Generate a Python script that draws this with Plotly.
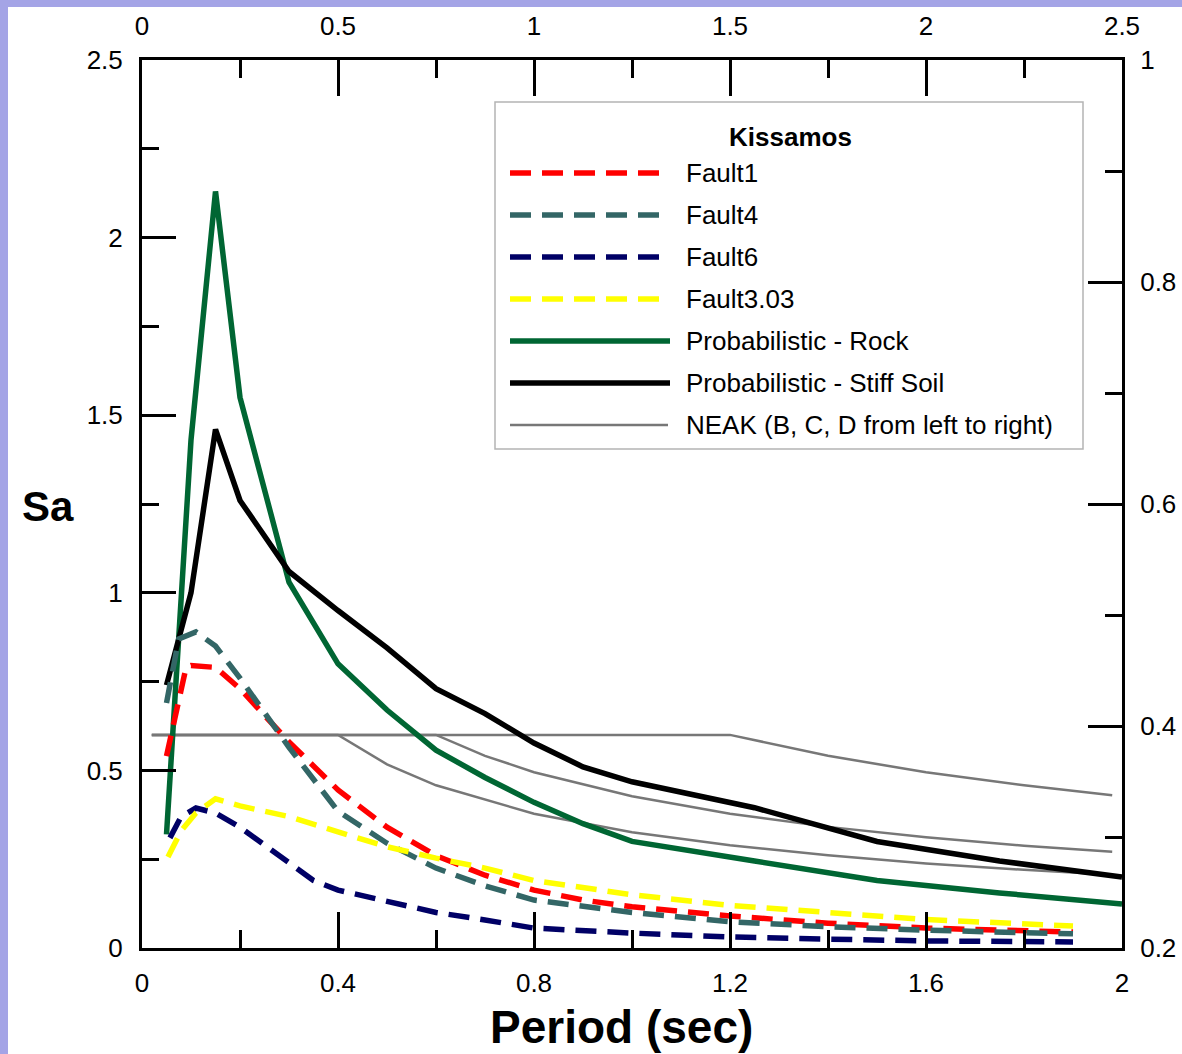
import plotly.graph_objects as go

# ---------------- data ----------------
T_prob = [0.05, 0.1, 0.15, 0.2, 0.3, 0.4, 0.5, 0.6, 0.7, 0.8, 0.9, 1.0, 1.25, 1.5, 1.75, 2.0]
Sa_rock = [0.32, 1.43, 2.13, 1.55, 1.03, 0.80, 0.67, 0.557, 0.48, 0.41, 0.35, 0.30, 0.245, 0.19, 0.155, 0.124]
Sa_soil = [0.74, 1.0, 1.46, 1.26, 1.06, 0.95, 0.845, 0.73, 0.66, 0.577, 0.51, 0.468, 0.395, 0.30, 0.245, 0.20]

T_f1 = [0.05, 0.09, 0.1, 0.15, 0.2, 0.3, 0.4, 0.5, 0.6, 0.7, 0.8, 0.9, 1.0, 1.2, 1.4, 1.6, 1.9]
Sa_f1 = [0.54, 0.79, 0.795, 0.79, 0.73, 0.58, 0.445, 0.34, 0.26, 0.205, 0.163, 0.135, 0.116, 0.09, 0.07, 0.056, 0.045]

T_f4 = [0.05, 0.075, 0.11, 0.15, 0.2, 0.3, 0.4, 0.5, 0.6, 0.7, 0.8, 0.9, 1.0, 1.2, 1.4, 1.6, 1.9]
Sa_f4 = [0.69, 0.87, 0.89, 0.85, 0.76, 0.565, 0.385, 0.295, 0.225, 0.175, 0.135, 0.116, 0.10, 0.074, 0.06, 0.05, 0.04]

T_f6 = [0.057, 0.08, 0.11, 0.15, 0.2, 0.3, 0.35, 0.4, 0.5, 0.6, 0.7, 0.8, 1.0, 1.2, 1.4, 1.6, 1.9]
Sa_f6 = [0.31, 0.37, 0.394, 0.38, 0.34, 0.24, 0.19, 0.163, 0.13, 0.10, 0.079, 0.056, 0.042, 0.031, 0.025, 0.02, 0.017]

T_f303 = [0.053, 0.08, 0.11, 0.15, 0.2, 0.3, 0.4, 0.5, 0.6, 0.7, 0.8, 0.9, 1.0, 1.2, 1.4, 1.6, 1.9]
Sa_f303 = [0.256, 0.33, 0.38, 0.42, 0.40, 0.37, 0.327, 0.285, 0.253, 0.225, 0.19, 0.17, 0.15, 0.12, 0.10, 0.08, 0.062]

T_neak_B = [0.02, 0.4, 0.5, 0.6, 0.8, 1.0, 1.2, 1.4, 1.6, 1.8, 1.98]
Sa_neak_B = [0.6, 0.6, 0.517, 0.458, 0.378, 0.326, 0.289, 0.261, 0.238, 0.220, 0.206]
T_neak_C = [0.02, 0.6, 0.7, 0.8, 1.0, 1.2, 1.4, 1.6, 1.8, 1.98]
Sa_neak_C = [0.6, 0.6, 0.541, 0.495, 0.427, 0.378, 0.341, 0.312, 0.288, 0.271]
T_neak_D = [0.02, 1.2, 1.4, 1.6, 1.8, 1.98]
Sa_neak_D = [0.6, 0.6, 0.541, 0.495, 0.458, 0.430]

bottom_ticks = [0, 0.4, 0.8, 1.2, 1.6, 2]
left_ticks = [0, 0.5, 1, 1.5, 2, 2.5]
top_ticks = [0, 0.5, 1, 1.5, 2, 2.5]
right_ticks = [0.2, 0.4, 0.6, 0.8, 1]

legend_title = "Kissamos"
legend_names = ["Fault1", "Fault4", "Fault6", "Fault3.03",
                "Probabilistic - Rock", "Probabilistic - Stiff Soil",
                "NEAK (B, C, D from left to right)"]

# ---------------- styles ----------------
RED = "#ff0000"
TEAL = "#336666"
NAVY = "#000066"
YELLOW = "#ffff00"
GREEN = "#006633"
BLACK = "#000000"
GREY = "#777777"
LAV = "#a4a4e6"
DASH = "21px,11px"
LW = 5.5
FONT = "Arial, Liberation Sans, sans-serif"

W, H = 1182, 1054
L, R, TOP, B = 142, 60, 60, 106
PW, PH = W - L - R, H - TOP - B


def px(x):
    return (x - L) / PW


def py(y):
    return (H - B - y) / PH


fig = go.Figure()

for tx, sy in [(T_neak_B, Sa_neak_B), (T_neak_C, Sa_neak_C), (T_neak_D, Sa_neak_D)]:
    fig.add_trace(go.Scatter(x=tx, y=sy, mode="lines", line=dict(color=GREY, width=2.5),
                             showlegend=False, hoverinfo="skip"))

fig.add_trace(go.Scatter(x=T_prob, y=Sa_rock, mode="lines", line=dict(color=GREEN, width=LW),
                         showlegend=False))
fig.add_trace(go.Scatter(x=T_prob, y=Sa_soil, mode="lines", line=dict(color=BLACK, width=LW),
                         showlegend=False))
fig.add_trace(go.Scatter(x=T_f1, y=Sa_f1, mode="lines", line=dict(color=RED, width=LW, dash=DASH),
                         showlegend=False))
fig.add_trace(go.Scatter(x=T_f4, y=Sa_f4, mode="lines", line=dict(color=TEAL, width=LW, dash=DASH),
                         showlegend=False))
fig.add_trace(go.Scatter(x=T_f6, y=Sa_f6, mode="lines", line=dict(color=NAVY, width=LW, dash=DASH),
                         showlegend=False))
fig.add_trace(go.Scatter(x=T_f303, y=Sa_f303, mode="lines", line=dict(color=YELLOW, width=LW, dash=DASH),
                         showlegend=False))

# dummy trace so the secondary (top/right) axes exist
fig.add_trace(go.Scatter(x=[None], y=[None], xaxis="x2", yaxis="y2", showlegend=False,
                         hoverinfo="skip"))

tickfont = dict(family=FONT, size=26, color="black")
common = dict(showline=True, linecolor="black", linewidth=3, ticks="inside", tickwidth=3,
              tickcolor="black", showgrid=False, zeroline=False, tickfont=tickfont,
              automargin=False)

fig.update_layout(
    width=W, height=H, autosize=False,
    margin=dict(l=L, r=R, t=TOP, b=B, autoexpand=False),
    paper_bgcolor="white", plot_bgcolor="white",
    showlegend=False,
    xaxis=dict(range=[0, 2], tickvals=bottom_ticks, ticklen=36,
               minor=dict(dtick=0.2, tick0=0, ticklen=18, tickwidth=3, ticks="inside", tickcolor="black"),
               ticklabelstandoff=10, **common),
    xaxis2=dict(range=[0, 2.5], tickvals=top_ticks, ticklen=36, overlaying="x", side="top",
                anchor="y",
                minor=dict(dtick=0.25, tick0=0, ticklen=18, tickwidth=3, ticks="inside", tickcolor="black"),
                ticklabelstandoff=12, **common),
    yaxis=dict(range=[0, 2.5], tickvals=left_ticks, ticklen=34,
               minor=dict(dtick=0.25, tick0=0, ticklen=17, tickwidth=3, ticks="inside", tickcolor="black"),
               ticklabelstandoff=11, **common),
    yaxis2=dict(range=[0.2, 1], tickvals=right_ticks, ticklen=34, overlaying="y", side="right",
                anchor="x",
                minor=dict(dtick=0.1, tick0=0.2, ticklen=17, tickwidth=3, ticks="inside", tickcolor="black"),
                ticklabelstandoff=10, **common),
)

shapes = []
annotations = []

# lavender frame strips (top and left)
shapes.append(dict(type="rect", xref="paper", yref="paper", x0=px(0), x1=px(W), y0=py(7), y1=py(0),
                   fillcolor=LAV, line=dict(width=0), layer="below"))
shapes.append(dict(type="rect", xref="paper", yref="paper", x0=px(0), x1=px(8), y0=py(H), y1=py(0),
                   fillcolor=LAV, line=dict(width=0), layer="below"))

# legend box
shapes.append(dict(type="rect", xref="paper", yref="paper", x0=px(495), x1=px(1083),
                   y0=py(449), y1=py(102), fillcolor="white",
                   line=dict(color="#b4b4b4", width=1.5), layer="above"))
annotations.append(dict(xref="paper", yref="paper", x=px(790), y=py(137), text="<b>%s</b>" % legend_title,
                        showarrow=False, xanchor="center", yanchor="middle",
                        font=dict(family=FONT, size=26, color="black")))

leg_styles = [
    (RED, LW, DASH, 665), (TEAL, LW, DASH, 665), (NAVY, LW, DASH, 665), (YELLOW, LW, DASH, 665),
    (GREEN, LW, "solid", 670), (BLACK, LW, "solid", 670), (GREY, 2.5, "solid", 668),
]
for i, (name, (col, wdt, dsh, xend)) in enumerate(zip(legend_names, leg_styles)):
    yy = 173 + 42 * i
    shapes.append(dict(type="line", xref="paper", yref="paper", x0=px(510), x1=px(xend),
                       y0=py(yy), y1=py(yy), line=dict(color=col, width=wdt, dash=dsh), layer="above"))
    annotations.append(dict(xref="paper", yref="paper", x=px(684), y=py(yy), text=name,
                            showarrow=False, xanchor="left", yanchor="middle",
                            font=dict(family=FONT, size=26, color="black")))

# axis titles
annotations.append(dict(xref="paper", yref="paper", x=px(48), y=py(506), text="<b>Sa</b>",
                        showarrow=False, xanchor="center", yanchor="middle",
                        font=dict(family=FONT, size=42, color="black")))
annotations.append(dict(xref="paper", yref="paper", x=px(621), y=py(1027), text="<b>Period (sec)</b>",
                        showarrow=False, xanchor="center", yanchor="middle",
                        font=dict(family=FONT, size=46, color="black")))

fig.update_layout(shapes=shapes, annotations=annotations)

fig.write_html("out.html",
               config={"responsive": False, "displayModeBar": False},
               post_script="document.documentElement.style.overflow='hidden';"
                           "document.body.style.overflow='hidden';"
                           "document.body.style.margin='0';document.body.style.padding='0';")
